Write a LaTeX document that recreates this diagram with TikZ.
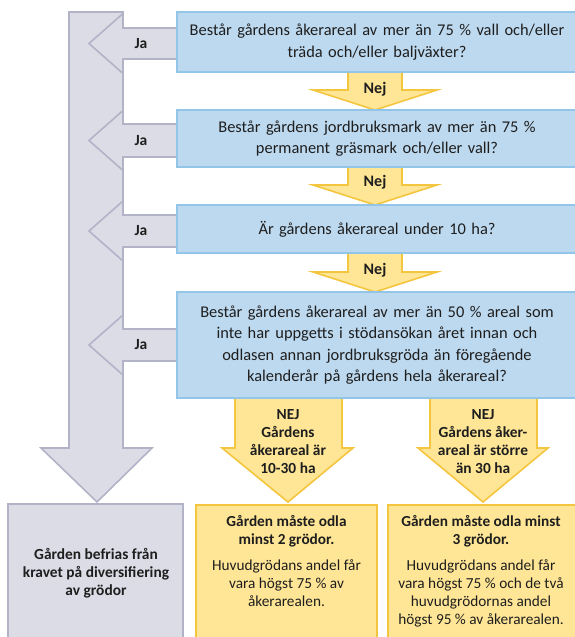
\documentclass[tikz,border=0pt]{standalone}
\usepackage{fontspec}
\setmainfont{Carlito}
\definecolor{txt}{HTML}{1E1E1E}
\definecolor{bluefill}{HTML}{BDD9EF}
\definecolor{blueline}{HTML}{93C5E8}
\definecolor{greyfill}{HTML}{DCDCE7}
\definecolor{greyline}{HTML}{B3B3C7}
\definecolor{yelfill}{HTML}{FFE696}
\definecolor{yelline}{HTML}{F4C53E}
\tikzset{
  qbox/.style={draw=blueline, fill=bluefill, line width=1.6pt, minimum width=400pt, text width=390pt, align=center, text=txt, font=\fontsize{16.4}{21.5}\selectfont},
  greyshape/.style={draw=greyline, fill=greyfill, line width=1.6pt, line join=miter},
  yelshape/.style={draw=yelline, fill=yelfill, line width=1.6pt, line join=miter},
  lbl/.style={text=txt, font=\fontsize{15.4}{18}\selectfont\bfseries, align=center},
  tag/.style={text=txt, font=\fontsize{15.5}{18}\selectfont\bfseries},
  body/.style={text=txt, font=\fontsize{15.3}{18}\selectfont, align=center},
}
\begin{document}
\begin{tikzpicture}[x=1pt,y=-1pt]
\useasboundingbox (0,0) rectangle (574,637);
% grey main bar with arrowhead
\draw[greyshape] (69,12) -- (123,12) -- (123,448) -- (152,448) -- (97,502) -- (41,448) -- (69,448) -- cycle;
% Ja arrows
\foreach \t/\m/\b in {28/43.5/59, 124/140.5/157, 215/231/247, 329/345/361}{
  \draw[greyshape] (180,\t) -- (123,\t) -- (123,\m-30) -- (89,\m) -- (123,\m+30) -- (123,\b) -- (180,\b);
}
% Nej arrows
\foreach \s/\h/\e in {72/90/110, 167/185/205, 253/272/292}{
  \draw[yelshape] (348,\s) -- (348,\h) -- (313,\h) -- (375,\e) -- (437,\h) -- (402,\h) -- (402,\s);
}
% lower yellow arrows
\draw[yelshape] (235,396) -- (235,448) -- (222,448) -- (288,502) -- (353,448) -- (342,448) -- (342,396);
\draw[yelshape] (430,396) -- (430,448) -- (418,448) -- (483,502) -- (548,448) -- (537,448) -- (537,396);
% question boxes
\node[qbox, minimum height=60pt] (q1) at (377,42) {Består gårdens åkerareal av mer än 75~\% vall och/eller\\träda och/eller baljväxter?};
\node[qbox, minimum height=57pt] (q2) at (377,138.5) {Består gårdens jordbruksmark av mer än 75~\%\\permanent gräsmark och/eller vall?};
\node[qbox, minimum height=48pt] (q3) at (377,229) {Är gårdens åkerareal under 10 ha?};
\node[qbox, minimum height=106pt] (q4) at (377,345) {Består gårdens åkerareal av mer än 50~\% areal som\\inte har uppgetts i stödansökan året innan och\\odlasen annan jordbruksgröda än föregående\\kalenderår på gårdens hela åkerareal?};
% outcome boxes
\draw[greyshape] (8,504) rectangle (183,650);
\draw[yelshape] (196,505) rectangle (377,650);
\draw[yelshape] (388,505) rectangle (580,650);
\node[lbl] (res0) at (96,573) {Gården befrias från\\kravet på diversifiering\\av grödor};
\node[body, anchor=north] (res1) at (286.5,512) {\textbf{Gården måste odla}\\\textbf{minst 2 grödor.}\\[8pt]Huvudgrödans andel får\\vara högst 75~\% av\\åkerarealen.};
\node[body, anchor=north] (res2) at (481,512) {\textbf{Gården måste odla minst}\\\textbf{3 grödor.}\\[8pt]Huvudgrödans andel får\\vara högst 75~\% och de två\\huvudgrödornas andel\\högst 95~\% av åkerarealen.};
% labels
\node[tag] (ja1) at (141,44) {Ja};
\node[tag] (ja2) at (141,140.5) {Ja};
\node[tag] (ja3) at (141,231) {Ja};
\node[tag] (ja4) at (141,345) {Ja};
\node[tag, font=\fontsize{16}{18}\selectfont\bfseries] (nej1) at (375,89) {Nej};
\node[tag, font=\fontsize{16}{18}\selectfont\bfseries] (nej2) at (375,182) {Nej};
\node[tag, font=\fontsize{16}{18}\selectfont\bfseries] (nej3) at (375,270) {Nej};
\node[lbl] (n4) at (288,441.5) {NEJ\\Gårdens\\åkerareal är\\10-30 ha};
\node[lbl] (n5) at (483,441.5) {NEJ\\Gårdens åker-\\areal är större\\än 30 ha};
\end{tikzpicture}
\end{document}
